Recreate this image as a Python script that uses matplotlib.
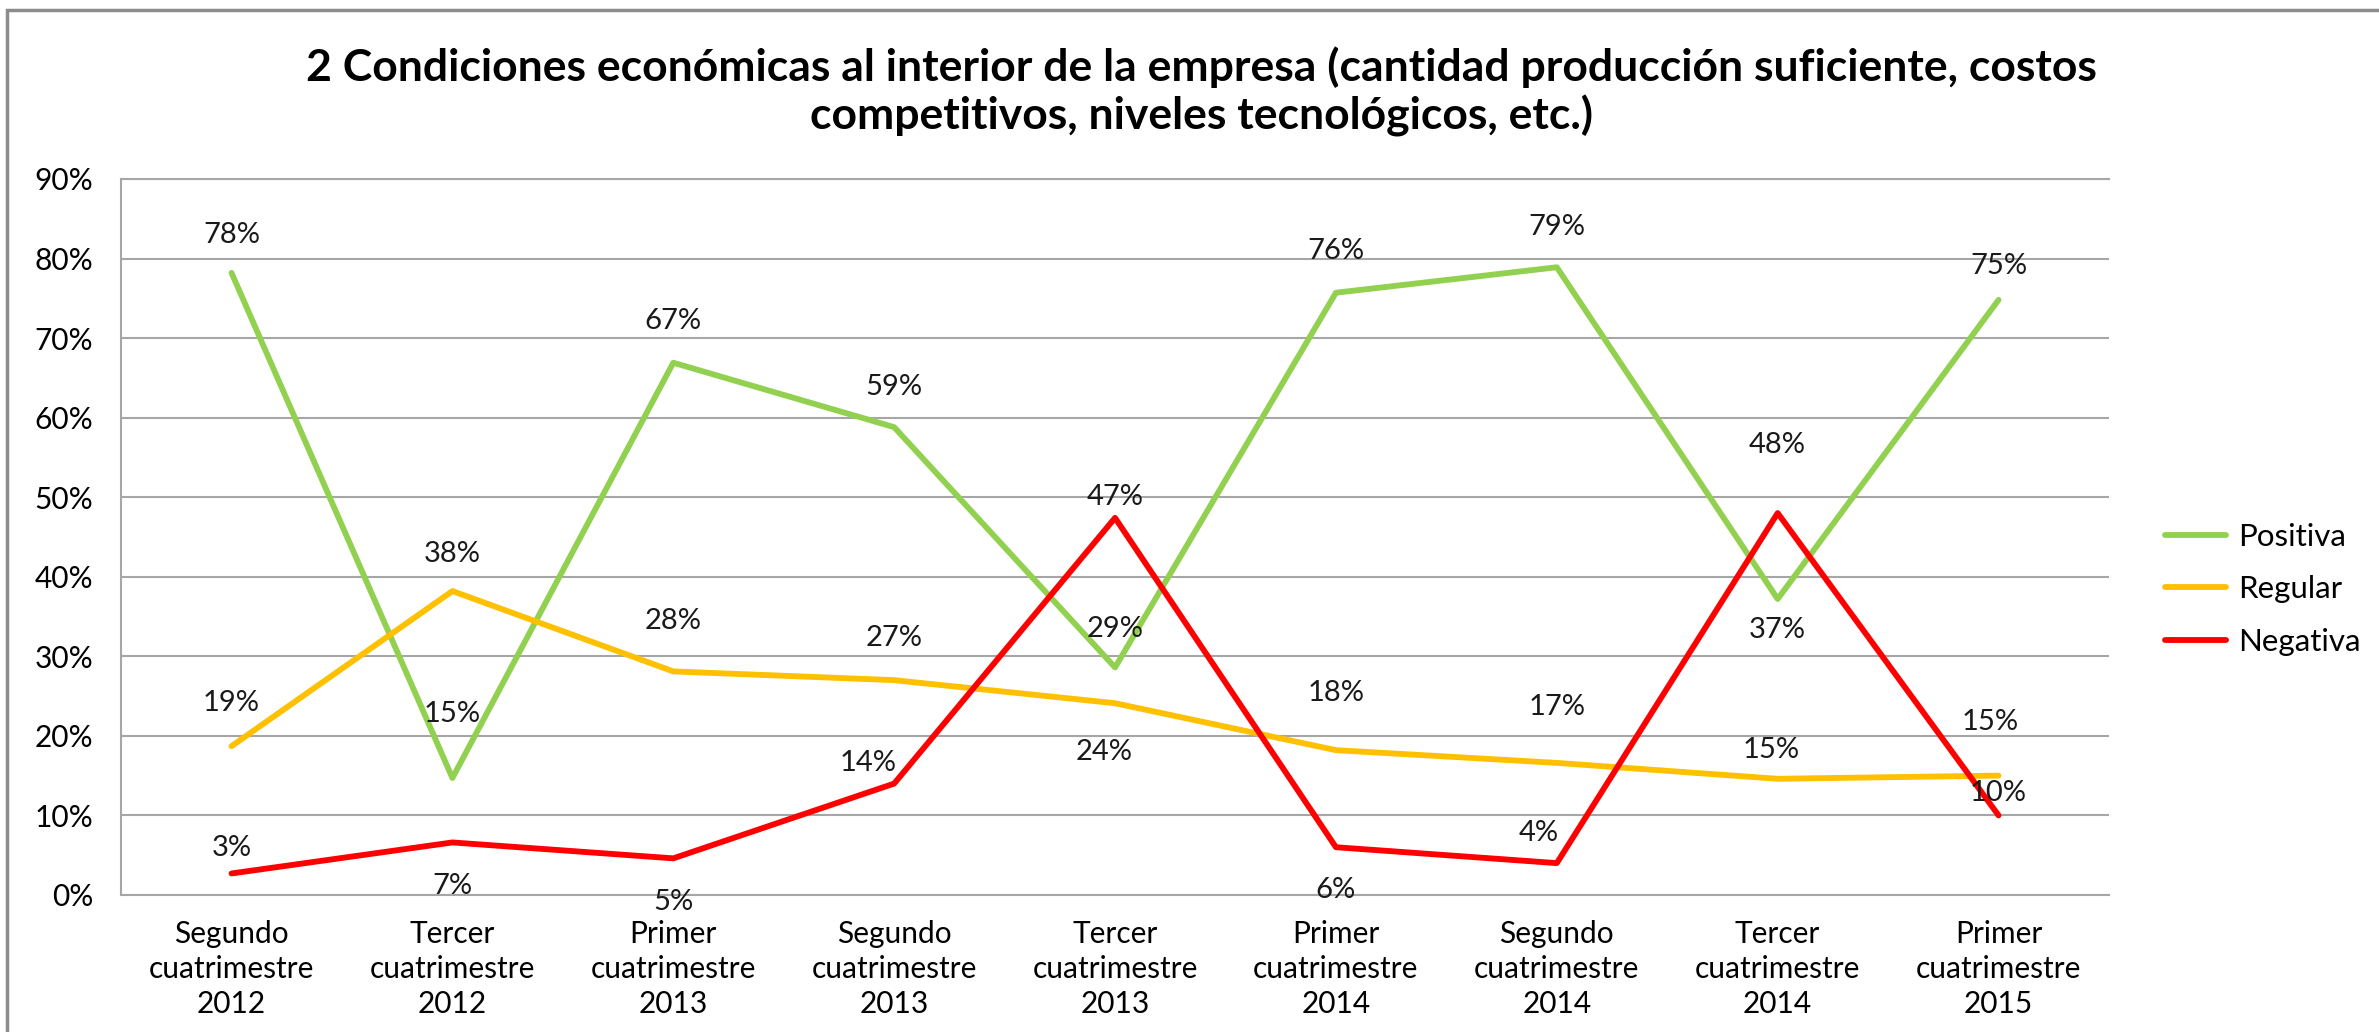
import matplotlib
matplotlib.use('Agg')
import matplotlib.pyplot as plt
from matplotlib.patches import Rectangle
from matplotlib.ticker import MultipleLocator, PercentFormatter

plt.rcParams['font.family'] = ['Lato', 'DejaVu Sans']

periods = ['Segundo\ncuatrimestre\n2012', 'Tercer\ncuatrimestre\n2012',
           'Primer\ncuatrimestre\n2013', 'Segundo\ncuatrimestre\n2013',
           'Tercer\ncuatrimestre\n2013', 'Primer\ncuatrimestre\n2014',
           'Segundo\ncuatrimestre\n2014', 'Tercer\ncuatrimestre\n2014',
           'Primer\ncuatrimestre\n2015']

positiva = [0.782, 0.147, 0.669, 0.588, 0.286, 0.757, 0.789, 0.372, 0.748]
regular = [0.187, 0.382, 0.281, 0.270, 0.241, 0.182, 0.166, 0.146, 0.150]
negativa = [0.027, 0.066, 0.046, 0.140, 0.474, 0.060, 0.040, 0.480, 0.100]

series_names = ['Positiva', 'Regular', 'Negativa']
series_values = [positiva, regular, negativa]
colors = ['#92D050', '#FFC000', '#FF0000']

# label placement relative to each point (x in categories, y in % points)
label_dx = [
    [0, 0, 0, 0, 0, 0, 0, 0, 0],
    [0, 0, 0, 0, -0.05, 0, 0, -0.03, -0.04],
    [0, 0, 0, -0.12, 0, 0, -0.08, 0, 0],
]
label_dy = [
    [4.8, 8.1, 5.2, 5.0, 4.8, 5.2, 5.0, -3.9, 4.2],
    [5.4, 4.6, 6.3, 5.3, -6.1, 7.2, 7.0, 3.6, 6.7],
    [3.2, -5.5, -5.5, 2.6, 2.6, -5.4, 3.8, 8.6, 2.8],
]

title = ('2 Condiciones económicas al interior de la empresa (cantidad producción suficiente, costos\n'
         'competitivos, niveles tecnológicos, etc.)')

fig = plt.figure(figsize=(23.79, 10.32), dpi=100)
ax = fig.add_axes([0.0509, 0.1328, 0.8356, 0.6938])

x = list(range(len(periods)))
for name, vals, col in zip(series_names, series_values, colors):
    ax.plot(x, vals, color=col, lw=4.2, label=name,
            solid_capstyle='round', solid_joinstyle='round', zorder=3)

for s, vals in enumerate(series_values):
    for i, v in enumerate(vals):
        ax.text(i + label_dx[s][i], v + label_dy[s][i] / 100, f'{v:.0%}',
                ha='center', va='center', fontsize=21, color='#1a1a1a', zorder=4)

ax.set_xlim(-0.5, len(periods) - 0.5)
ax.set_ylim(0, 0.9)
ax.yaxis.set_major_locator(MultipleLocator(0.1))
ax.yaxis.set_major_formatter(PercentFormatter(1.0, decimals=0))
ax.set_xticks(x)
ax.set_xticklabels(periods, fontsize=21.5, linespacing=1.3)
ax.tick_params(axis='y', length=0, pad=20, labelsize=21.5)
ax.tick_params(axis='x', length=0, pad=18)

ax.grid(axis='y', color='#A6A6A6', lw=1.5, zorder=1)
for side in ['top', 'bottom', 'left']:
    ax.spines[side].set_color('#A6A6A6')
    ax.spines[side].set_linewidth(1.5)
ax.spines['right'].set_visible(False)

fig.text(0.505, 0.911, title, ha='center', va='center', fontsize=32,
         fontweight='bold', linespacing=1.2)

fig.legend(loc='center left', bbox_to_anchor=(0.910, 0.429), frameon=False,
           fontsize=22.5, handlelength=1.95, handletextpad=0.4, labelspacing=0.78,
           borderpad=0, borderaxespad=0)

# chart area border
fig.add_artist(Rectangle((0.003, -0.1), 1.2, 1.09, transform=fig.transFigure,
                         fill=False, edgecolor='#8C8C8C', lw=2.5))

fig.savefig('out.png', dpi=100)
